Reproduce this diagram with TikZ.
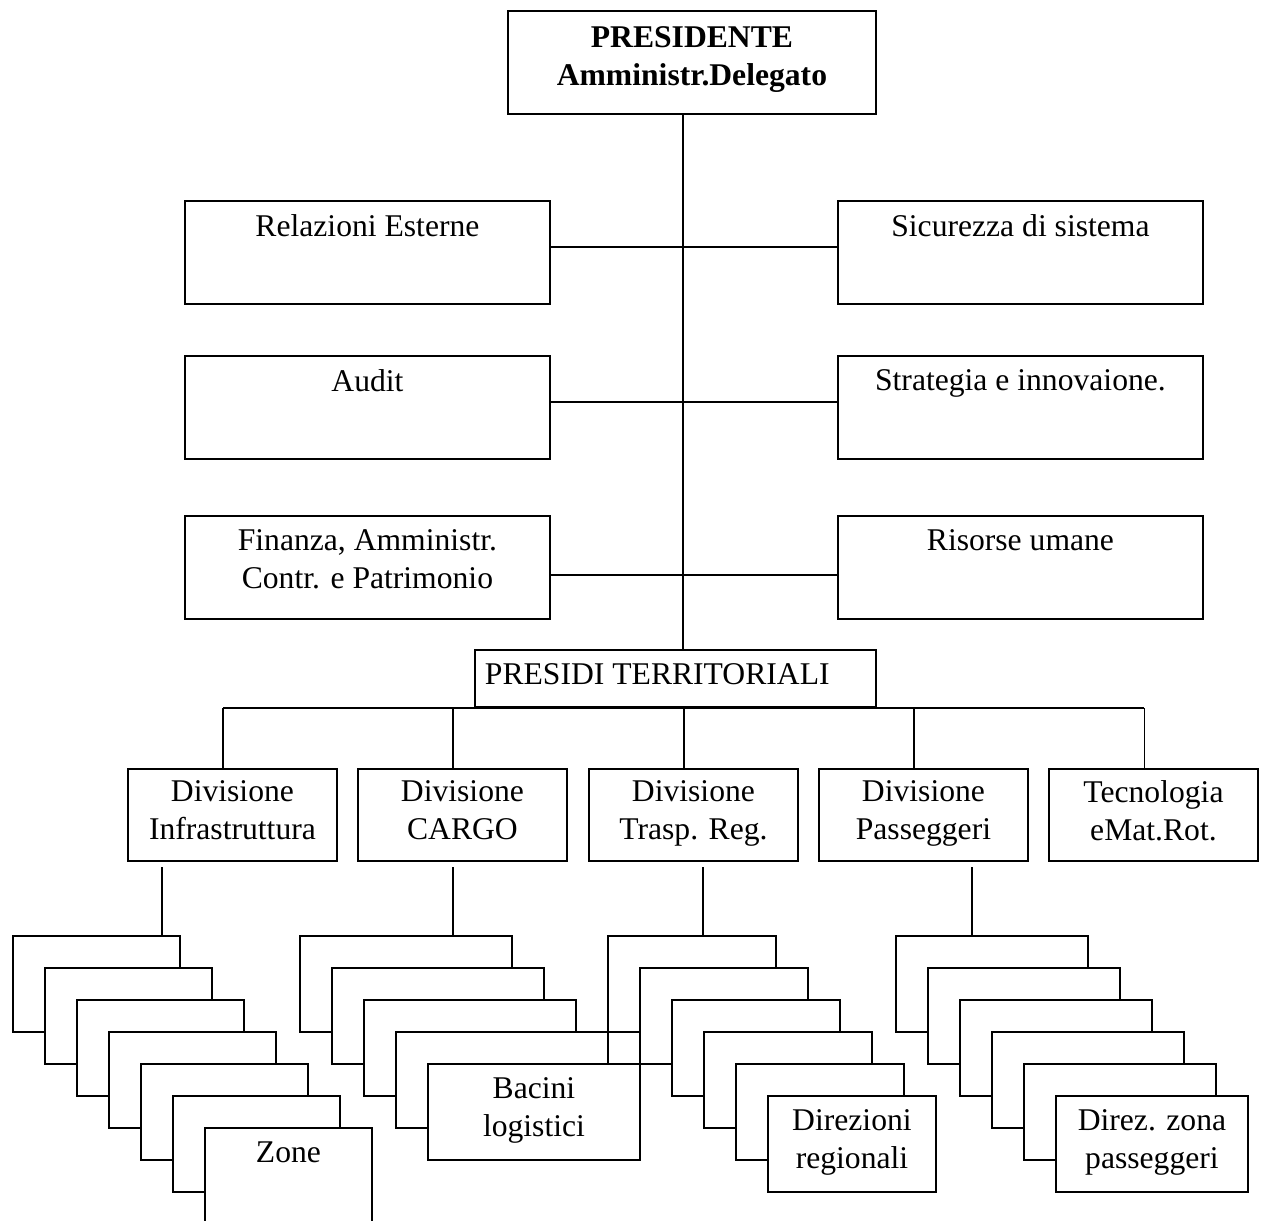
\documentclass[tikz,border=0pt]{standalone}
\usepackage{fontspec}
\setmainfont{Liberation Serif}
\usetikzlibrary{positioning}

\begin{document}
\begin{tikzpicture}[x=0.02cm, y=-0.02cm, line width=1.1pt,
  every node/.style={font=\fontsize{18}{21.6}\selectfont},
  unit/.style={draw, anchor=north west, inner sep=0pt, minimum width=7.3cm, minimum height=2.06cm},
  division/.style={draw, anchor=north west, inner sep=0pt, minimum width=4.18cm, minimum height=1.84cm},
  stackbox/.style={draw, fill=white, anchor=north west, inner sep=0pt, minimum height=1.92cm},
  lab/.style={anchor=north, align=center, inner sep=0pt, yshift=-0.28cm}]

\useasboundingbox (0,0) rectangle (1263,1220);
\clip (0,0) rectangle (1263,1220);

\node[unit, minimum width=7.36cm,
  label={[lab, yshift=-0.04cm, font=\fontsize{18}{21.6}\selectfont\bfseries]north:{PRESIDENTE\\Amministr.Delegato}}]
  (pres) at (507,10) {};

\node[unit, label={[lab]north:Relazioni Esterne}]      (rel) at (184,200) {};
\node[unit, label={[lab]north:Sicurezza di sistema}]   (sic) at (837,200) {};
\node[unit, label={[lab]north:Audit}]                  (aud) at (184,355) {};
\node[unit, label={[lab]north:Strategia e innovaione.}] (str) at (837,355) {};
\node[unit, label={[lab]north:{Finanza, Amministr.\\Contr. e Patrimonio}}] (fin) at (184,515) {};
\node[unit, label={[lab]north:Risorse umane}]          (ris) at (837,515) {};

\node[draw, anchor=north west, inner sep=0pt, minimum width=8.02cm, minimum height=1.14cm,
  label={[anchor=north west, inner sep=0pt, xshift=0.2cm, yshift=-0.28cm]north west:PRESIDI TERRITORIALI}]
  (presidi) at (474,649) {};

\node[division, label={[lab, yshift=0.04cm]north:{Divisione\\Infrastruttura}}] (inf) at (127,768) {};
\node[division, label={[lab, yshift=0.04cm]north:{Divisione\\CARGO}}]          (car) at (357,768) {};
\node[division, label={[lab, yshift=0.04cm]north:{Divisione\\Trasp. Reg.}}]    (tra) at (588,768) {};
\node[division, label={[lab, yshift=0.04cm]north:{Divisione\\Passeggeri}}]     (pas) at (818,768) {};
\node[division, label={[lab, yshift=0.04cm]north:{Tecnologia\\eMat.Rot.}}]     (tec) at (1048,768) {};

% spine and side connectors
\coordinate (spine) at (683,0);
\coordinate (bus) at (683,708);
\draw (pres.south -| spine) -- (presidi.north -| spine);
\foreach \f/\t/\y in {rel/sic/247, aud/str/402, fin/ris/575}
  \draw (\f.east |- 0,\y) -- (\t.west |- 0,\y);

% bus to divisions
\draw ([xshift=-0.18cm]inf.north |- bus) -- ([xshift=-0.18cm]tec.north |- bus);
\foreach \d in {inf,car,tra,pas,tec}
  \draw ([xshift=-0.18cm]\d.north) -- ([xshift=-0.18cm]\d.north |- bus);

% stacked units: name/left/width/count/drop
\foreach \s/\x/\w/\n/\dx in {zon/12/3.34/7/162, bac/299/4.24/5/453, dir/607/3.36/6/703, dzp/895/3.84/6/972} {
  \foreach \i in {1,...,\n}
    \node[stackbox, minimum width=\w cm] (\s\i) at ({\x+32*(\i-1)},{935+32*(\i-1)}) {};
  \coordinate (\s-top) at (\dx,867);
  \draw (\s-top) -- (\s1.north -| \s-top);
}

\node[lab] (zontxt) at (zon7.north) {Zone};
\node[lab] (bactxt) at (bac5.north) {Bacini\\logistici};
\node[lab] (dirtxt) at (dir6.north) {Direzioni\\regionali};
\node[lab] (dzptxt) at (dzp6.north) {Direz. zona\\passeggeri};

\end{tikzpicture}
\end{document}
